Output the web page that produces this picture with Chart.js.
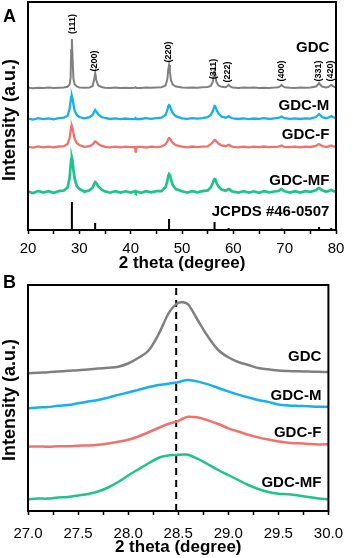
<!DOCTYPE html>
<html>
<head>
<meta charset="utf-8">
<script src="https://cdn.jsdelivr.net/npm/chart.js@4.4.1/dist/chart.umd.min.js"></script>
<style>
  html, body { margin: 0; padding: 0; background: #fff; }
  #wrap { position: relative; width: 353px; height: 558px; }
  .panel { position: absolute; left: 0; }
  #boxA { top: 0; }
  #boxB { top: 270px; }
</style>
</head>
<body>
<div id="wrap">
  <div class="panel" id="boxA"><canvas id="chartA" width="353" height="278"></canvas></div>
  <div class="panel" id="boxB"><canvas id="chartB" width="353" height="288"></canvas></div>
</div>
<script>
// ==== Data panel A (2 theta 20-80) ====
const xA = [20,21,22,23,24,25,26,27,27.7,28.1,
  28.3,28.42,28.55,28.68,28.85,29.1,29.5,30,31,32,
  32.6,32.9,33.1,33.3,33.7,34.3,35,36,37,38,
  39,40,40.85,41,41.15,42,43,44,45,46,
  46.8,47.15,47.32,47.48,47.64,47.85,48.2,48.8,50,51,
  52,53,54,55,55.6,56.0,56.2,56.34,56.5,56.7,
  57.1,57.7,58.5,58.9,59.1,59.3,59.7,60,61,62,
  63,64,65,66,67,68,68.8,69.2,69.4,69.6,
  70,71,72,73,74,75,76.1,76.5,76.7,76.9,
  77.3,78,78.5,78.9,79.1,79.3,79.7,80];

const gdcA = [142.2,141.8,142.3,141.9,142.4,142.0,142.3,142.6,143.2,145.5,
  152,180,191,172,151,145.5,143.5,142.6,142.2,142.6,
  144,151,157,150,144.5,143,142.3,142.0,142.4,141.9,
  142.3,142.1,142.2,142.5,142.1,142.0,142.4,142.2,142.5,142.8,
  144.5,151,160,165,159,150,145.5,143.5,142.5,142.2,
  142.6,142.3,142.7,143,144,148,155,159,155,148,
  144.5,143.2,142.8,144,145,144,142.6,142.4,142.1,142.5,
  142.2,142.4,142.0,142.3,142.1,142.4,142.8,144,145,144,
  142.7,142.3,142.1,142.4,142.2,142.6,143.5,145.5,147,145.5,
  143.5,142.6,143,144.3,145,144.3,143,142.5];

const gdcMA = [111.5,110.4,111.8,110.9,111.6,110.7,111.9,112.4,114,121,
  129,133,134,131.5,126,119,115,113,111.6,112.8,
  115,118.5,120,118.5,115.5,113,112,111.0,111.7,110.8,
  111.5,110.9,111.2,111.6,111.0,111.0,111.8,111.2,111.9,112.3,
  115,120,123.5,125,124.5,121,117,113.8,111.7,111.2,
  111.9,111.3,111.8,112.8,115,119,122,124,123.5,120.5,
  116.5,113.5,112.3,113.2,113.8,113,112,111.6,111.0,111.7,
  110.9,111.5,111.1,111.8,111.0,111.6,112,113,113.5,112.8,
  111.8,111.2,111.7,111.0,111.6,111.4,113,115,116,115.2,
  113,111.8,112.3,113.5,114,113.2,112.4,112];

const gdcFA = [83.2,82.4,83.6,82.7,83.4,82.6,83.5,83.8,86,92,
  99,103,104,102,97,91,87,85,83.2,83.8,
  85.5,87.5,88.5,88,86,84.3,83.2,82.7,83.4,82.6,
  83.3,82.8,83.0,77.5,83.2,83.1,82.5,83.3,82.8,83.4,
  85.8,88.5,91,92,91.8,90,87,84.8,83.3,82.7,
  83.5,82.8,83.4,83.6,85.8,88,89.3,90,89.8,88.7,
  86.5,84.5,83.8,84.8,85.2,84.6,83.6,83.2,82.6,83.4,
  82.7,83.3,82.8,83.5,82.9,83.2,83.4,84.2,84.5,84,
  83.2,82.8,83.4,82.7,83.3,83.0,84,85.5,86,85.4,
  84,83.2,83.5,84.3,84.5,84,83.3,83.2];

const gdcMFA = [38.5,37.0,39.0,37.4,38.8,37.2,38.9,39.5,42.5,52,
  64,71,72,69,60,51,44,41,38.2,39.8,
  42.5,46.5,48,47,43.5,40.5,38.6,37.3,38.9,37.5,
  38.7,37.4,38.8,37.6,38.5,37.2,38.9,37.6,38.8,38.9,
  43,49,54,56,55,51,45,41,38.7,37.4,
  38.9,37.6,38.8,39.6,42.5,47,50,51,50.5,47.5,
  43.5,40.5,39.3,40.5,41,40.3,38.8,38.3,37.3,38.9,
  37.5,38.7,37.2,38.8,37.6,38.5,39,40.5,41,40.2,
  38.8,37.5,38.8,37.4,38.9,38.2,39.8,41.5,42,41.4,
  39.8,38.4,38.8,39.8,40,39.5,38.6,38.3];

// JCPDS #46-0507 reference lines
const stickPos = [28.55, 33.08, 47.48, 56.34, 59.09, 69.42, 76.7, 79.07];
const stickHeight = [28, 7, 11, 8, 2, 1.5, 3, 2];
const millerText = ['(111)','(200)','(220)','(311)','(222)','(400)','(331)','(420)'];

// ==== Data panel B (zoom 27-30) ====
const xB = [27.0,27.1,27.2,27.3,27.4,27.5,27.6,27.7,27.8,27.9,
  28.0,28.1,28.2,28.3,28.4,28.45,28.5,28.55,28.6,28.7,
  28.8,28.9,29.0,29.1,29.2,29.3,29.4,29.5,29.6,29.7,
  29.8,29.9,30.0];
const gdcB = [137.7,138.3,138.8,139.5,140.2,140.8,141.6,142.4,143.3,144.3,
  147.5,153,160,176,197,204,208.2,208.7,206.5,190,
  174,161,153.7,149,146,143,141.7,140.5,140,139.7,
  139.5,139.2,139];
const gdcMB = [102.7,103.6,103.9,105.3,106,107.7,109.4,111,113.4,116.1,
  118.5,121.1,123.7,126,127.3,128,128.8,130.3,131,129.4,
  126.6,123,119.6,116.4,113.6,111,109.1,106.5,105.6,105.1,
  104.7,104.3,104.3];
const gdcFB = [64.3,64.6,64.2,64.7,64.8,65.3,65.6,66.3,67.5,69.3,
  71.2,74.5,78.5,83,87,88.5,90,92.5,94.3,93.4,
  90.6,87,82.7,79.5,76.2,73.6,71.4,69.6,68.2,67.7,
  67.1,66.6,66.7];
const gdcMFB = [11.7,12.4,12.4,13.5,14,15.5,17,19.5,23.5,29,
  35.5,41.5,47.5,53,55.5,56,56.2,56.5,56.3,52,
  46.5,41,36,31,26,22,19,17.3,16.8,15.4,
  14,12.5,11.7];
const dashX = 28.48;

// ==== Style ====
const FONT = '"Liberation Sans", Arial, sans-serif';
const C_GDC = '#808080', C_M = '#13b1ef', C_F = '#f2716c', C_MF = '#1fc48b';
Chart.defaults.font.family = FONT;

function pts(xs, ys) { return xs.map((x, i) => ({x: x, y: ys[i]})); }

function stickData() {
  const d = [];
  stickPos.forEach((p, i) => {
    d.push({x: p, y: 0}, {x: p, y: stickHeight[i]}, {x: p, y: null});
  });
  return d;
}

// text tags (value coords)
const tagsA = [
  {t: 'GDC', y: 182}, {t: 'GDC-M', y: 124}, {t: 'GDC-F', y: 95},
  {t: 'GDC-MF', y: 49}, {t: 'JCPDS #46-0507', y: 18}
];
const millerAt = [[28.68, 206], [33.05, 169], [47.3, 178], [56.1, 161],
  [58.9, 158], [69.3, 159], [76.5, 159], [79.0, 159]];
const tagsB = [
  {t: 'GDC', y: 154}, {t: 'GDC-M', y: 115}, {t: 'GDC-F', y: 78}, {t: 'GDC-MF', y: 28}
];

function drawFrame(chart, letter, letterY, titleY) {
  const ctx = chart.ctx, a = chart.chartArea;
  ctx.save();
  ctx.strokeStyle = '#000';
  ctx.lineWidth = 2;
  ctx.strokeRect(a.left, a.top, a.right - a.left, a.bottom - a.top);
  ctx.fillStyle = '#000';
  ctx.font = 'bold 18px ' + FONT;
  ctx.textAlign = 'left';
  ctx.textBaseline = 'alphabetic';
  ctx.fillText(letter, 3, letterY);
  ctx.save();
  ctx.translate(10, titleY);
  ctx.rotate(-Math.PI / 2);
  ctx.textAlign = 'center';
  ctx.textBaseline = 'middle';
  ctx.fillText('Intensity (a.u.)', 0, 0);
  ctx.restore();
  ctx.restore();
}

function drawTags(chart, tags, xVal) {
  const ctx = chart.ctx, sx = chart.scales.x, sy = chart.scales.y;
  ctx.save();
  ctx.fillStyle = '#000';
  ctx.font = 'bold 15px ' + FONT;
  ctx.textAlign = 'right';
  ctx.textBaseline = 'middle';
  tags.forEach(g => ctx.fillText(g.t, sx.getPixelForValue(xVal), sy.getPixelForValue(g.y)));
  ctx.restore();
}

const decoA = {
  id: 'decoA',
  afterDatasetsDraw(chart) {
    const ctx = chart.ctx, sx = chart.scales.x, sy = chart.scales.y;
    drawTags(chart, tagsA, 78.7);
    ctx.save();
    ctx.fillStyle = '#000';
    ctx.font = 'bold 9px ' + FONT;
    ctx.textAlign = 'center';
    ctx.textBaseline = 'middle';
    millerText.forEach((t, i) => {
      ctx.save();
      ctx.translate(sx.getPixelForValue(millerAt[i][0]), sy.getPixelForValue(millerAt[i][1]));
      ctx.rotate(-Math.PI / 2);
      ctx.fillText(t, 0, 0);
      ctx.restore();
    });
    ctx.restore();
    drawFrame(chart, 'A', 22, 120);
  }
};

const decoB = {
  id: 'decoB',
  afterDatasetsDraw(chart) {
    drawTags(chart, tagsB, 29.93);
    drawFrame(chart, 'B', 18, 130);
  }
};

function xAxis(min, max, step, cb, h, tickPad, titlePad) {
  return {
    type: 'linear', min: min, max: max,
    afterFit: s => { s.height = h; },
    grid: { drawOnChartArea: false, drawTicks: true, tickLength: 4, tickColor: '#000', tickWidth: 1.5 },
    border: { display: false },
    ticks: { stepSize: step, autoSkip: false, maxRotation: 0, padding: tickPad, color: '#000',
      font: { size: 15 }, callback: cb },
    title: { display: true, text: '2 theta (degree)', color: '#000',
      font: { size: 17, weight: 'bold' }, padding: { top: 0, bottom: titlePad } }
  };
}

function line(data, color, w, tension) {
  return { data: data, borderColor: color, borderWidth: w, pointRadius: 0, tension: tension, fill: false };
}

// ==== Panel A ====
new Chart(document.getElementById('chartA').getContext('2d'), {
  type: 'line',
  data: {
    datasets: [
      line(pts(xA, gdcA), C_GDC, 2, 0),
      line(pts(xA, gdcMA), C_M, 2.3, 0),
      line(pts(xA, gdcFA), C_F, 2.3, 0),
      line(pts(xA, gdcMFA), C_MF, 2.7, 0),
      Object.assign(line(stickData(), '#000', 2, 0), { spanGaps: false })
    ]
  },
  options: {
    responsive: false, animation: false,
    layout: { padding: { left: 28, right: 17, top: 2, bottom: 0 } },
    plugins: { legend: { display: false }, tooltip: { enabled: false } },
    scales: {
      x: xAxis(20, 80, 5, v => (v % 10 === 0 ? v : ''), 48, 6, 4),
      y: { display: false, min: 0, max: 228 }
    }
  },
  plugins: [decoA]
});

// ==== Panel B ====
new Chart(document.getElementById('chartB').getContext('2d'), {
  type: 'line',
  data: {
    datasets: [
      line(pts(xB, gdcB), C_GDC, 2.5, 0.35),
      line(pts(xB, gdcMB), C_M, 2.5, 0.35),
      line(pts(xB, gdcFB), C_F, 2.5, 0.35),
      line(pts(xB, gdcMFB), C_MF, 2.5, 0.35),
      Object.assign(line([{x: dashX, y: 0}, {x: dashX, y: 226}], '#000', 2, 0), { borderDash: [7, 5] })
    ]
  },
  options: {
    responsive: false, animation: false,
    layout: { padding: { left: 28, right: 17, top: 15, bottom: 0 } },
    plugins: { legend: { display: false }, tooltip: { enabled: false } },
    scales: {
      x: xAxis(27, 30, 0.25, v => (Math.round(v * 100) % 50 === 0 ? v.toFixed(1) : ''), 47, 10, 0),
      y: { display: false, min: 0, max: 226 }
    }
  },
  plugins: [decoB]
});
</script>
</body>
</html>
